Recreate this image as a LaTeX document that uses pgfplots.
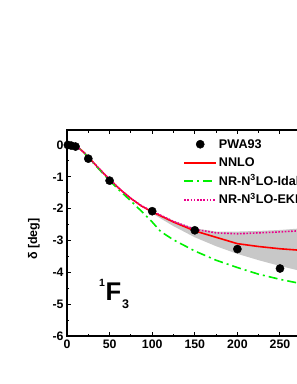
\documentclass[border=0pt]{standalone}
\usepackage{fontspec}
\setmainfont{Liberation Sans}
\usepackage{pgfplots}
\pgfplotsset{compat=1.18}
\definecolor{bandgray}{RGB}{200,200,200}
\definecolor{pwgreen}{RGB}{0,240,0}
\begin{document}
\bfseries
\begin{tikzpicture}
\begin{axis}[
  name=ax, at={(0,0)}, anchor=south west,
  scale only axis, width=255.6pt, height=206pt,
  xmin=0, xmax=300, ymin=-6, ymax=0.47,
  xtick={0,50,...,250}, ytick={-6,-5,...,0},
  minor xtick={25,75,...,275},
  minor y tick num=1,
  tick align=inside, major tick length=4pt, minor tick length=2.5pt,
  axis line style={line width=1.2pt}, every tick/.style={line width=1pt,black},
  /pgf/number format/assume math mode=true,
  tick label style={font=\fontsize{12.3}{14}\selectfont\bfseries},
  ylabel={δ [deg]},
  ylabel style={font=\fontsize{12.5}{14}\selectfont\bfseries, at={(axis description cs:-0.129,0.47)}, anchor=center},
  legend style={at={(rel axis cs:0.455,0.961)}, anchor=north west, draw=none, fill=none,
    font=\fontsize{12.6}{14}\selectfont\bfseries, inner sep=0pt, row sep=6.5pt,
    nodes={text height=8pt, text depth=0pt, inner sep=2pt}},
  legend cell align=left,
  legend image code/.code={\draw[mark repeat=2,mark phase=2,#1] plot coordinates {(0cm,0cm) (0.56cm,0cm) (1.12cm,0cm)};},
]
% uncertainty band
\addplot[fill=bandgray, draw=none, forget plot] coordinates {
 (90,-1.95) (100,-2.08) (125,-2.38) (150,-2.62) (175,-2.72) (200,-2.72) (225,-2.70) (250,-2.67) (270,-2.63) (300,-2.58)
 (300,-4.10) (270,-3.93) (250,-3.80) (225,-3.62) (200,-3.42) (175,-3.18) (150,-2.90) (125,-2.55) (100,-2.15) (90,-1.97)
} -- cycle;
% PWA93
\addplot[only marks, mark=*, mark size=4.1pt, black] coordinates {
 (1,0.0) (5,-0.02) (10,-0.05) (25,-0.43) (50,-1.12) (100,-2.08) (150,-2.68) (200,-3.27) (250,-3.88)
};
\addlegendentry{PWA93}
% NNLO
\addplot[red, line width=1.6pt] coordinates {
 (0,0) (5,-0.01) (10,-0.05) (15,-0.12) (20,-0.24) (25,-0.38) (37.5,-0.74) (50,-1.08) (62.5,-1.40) (75,-1.68) (87.5,-1.92) (100,-2.10) (125,-2.42) (150,-2.70) (175,-2.90) (200,-3.10) (225,-3.19) (250,-3.26) (275,-3.31) (300,-3.34)
};
\addlegendentry{NNLO}
% Idaho
\addplot[color=pwgreen, line width=1.6pt, dash pattern=on 9pt off 4pt on 2pt off 4pt] coordinates {
 (0,0) (5,-0.01) (10,-0.05) (15,-0.12) (20,-0.24) (25,-0.39) (37.5,-0.76) (50,-1.12) (62.5,-1.45) (75,-1.76) (90,-2.15) (100,-2.42) (110,-2.72) (125,-2.98) (150,-3.33) (175,-3.62) (200,-3.85) (225,-4.06) (250,-4.22) (270,-4.33) (300,-4.45)
};
\addlegendentry{NR-N\textsuperscript{3}LO-Idaho}
% EKM
\addplot[magenta, line width=1.6pt, dash pattern=on 1.6pt off 1.6pt] coordinates {
 (0,0) (5,-0.01) (10,-0.05) (15,-0.12) (20,-0.24) (25,-0.38) (37.5,-0.74) (50,-1.08) (62.5,-1.40) (75,-1.68) (87.5,-1.91) (100,-2.08) (125,-2.40) (150,-2.65) (175,-2.76) (200,-2.79) (225,-2.76) (250,-2.73) (270,-2.70) (300,-2.66)
};
\addlegendentry{NR-N\textsuperscript{3}LO-EKM}
\node[anchor=base west, inner sep=0pt] at (axis cs:37.6,-4.90)
 {{\fontsize{10.5}{12}\selectfont\raisebox{14.3pt}{1}}\kern0.5pt{\fontsize{25.6}{28}\selectfont F}\kern1pt{\fontsize{12.5}{14}\selectfont\raisebox{-7.3pt}{3}}};
\end{axis}
\pgfresetboundingbox
\path[use as bounding box] (-67pt,-48pt) rectangle (230pt,336pt);
\end{tikzpicture}
\end{document}
